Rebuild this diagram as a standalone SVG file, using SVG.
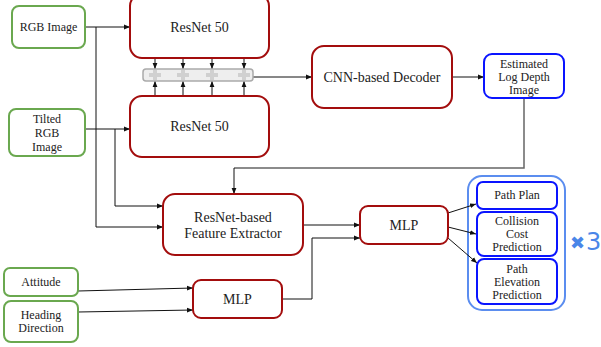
<svg xmlns="http://www.w3.org/2000/svg" width="601" height="347" viewBox="0 0 601 347">
<style>
text{font-family:"Liberation Serif","DejaVu Serif",serif;fill:#222;text-anchor:middle}
.in{fill:#fff;stroke:#6aa84f;stroke-width:2}
.nn{fill:#fff;stroke:#a30d0d;stroke-width:2}
.out{fill:#fff;stroke:#0a14ff;stroke-width:2}
.c{fill:none;stroke:#111;stroke-width:1}
.g{fill:none;stroke:#666;stroke-width:1.5}
.big{font-family:"Liberation Serif",serif;font-size:14px}
.mid{font-family:"Liberation Serif",serif;font-size:12px}
.sm{font-family:"Liberation Serif",serif;font-size:12px}
.x3{font-family:"DejaVu Sans","Liberation Sans",sans-serif;fill:#4a86e8;text-anchor:start}
</style>
<defs>
<marker id="ah" viewBox="0 0 10 10" refX="10" refY="5" markerWidth="6" markerHeight="6" markerUnits="userSpaceOnUse" orient="auto">
<path d="M0,1 L10,5 L0,9 z" fill="#111"/>
</marker>
</defs>
<g id="heads">
<rect x="468" y="176" width="97" height="134" rx="14" fill="none" stroke="#5b8def" stroke-width="2"/>
<text class="x3" x="570" y="249" font-size="18">✖</text>
<text class="x3" x="586" y="250" font-size="24">3</text>
</g>
<g id="connectors">
<path class="c" d="M85,27 H130" marker-end="url(#ah)"/>
<path class="c" d="M96,27 V227 H163" marker-end="url(#ah)"/>
<path class="c" d="M85,129 H130" marker-end="url(#ah)"/>
<path class="c" d="M115,129 V206 H163" marker-end="url(#ah)"/>
<path class="c" d="M155,58 V69" marker-end="url(#ah)"/>
<path class="c" d="M183,58 V69" marker-end="url(#ah)"/>
<path class="c" d="M212,58 V69" marker-end="url(#ah)"/>
<path class="c" d="M244,58 V69" marker-end="url(#ah)"/>
<path class="c" d="M155,96 V81" marker-end="url(#ah)"/>
<path class="c" d="M183,96 V81" marker-end="url(#ah)"/>
<path class="c" d="M212,96 V81" marker-end="url(#ah)"/>
<path class="c" d="M244,96 V81" marker-end="url(#ah)"/>
<path class="c" d="M253,77 H312" marker-end="url(#ah)"/>
<path class="c" d="M452,77 H484" marker-end="url(#ah)"/>
<path class="g" d="M524,98 V168 H234"/>
<path class="c" d="M234,168 V194" marker-end="url(#ah)"/>
<path class="c" d="M303,225 H360" marker-end="url(#ah)"/>
<path class="c" d="M282,299 H312 V238 H360" marker-end="url(#ah)"/>
<path class="c" d="M78,291 L193,288" marker-end="url(#ah)"/>
<path class="c" d="M78,312 L193,310" marker-end="url(#ah)"/>
<path class="c" d="M448,213 L476,204" marker-end="url(#ah)"/>
<path class="c" d="M448,227 L476,234" marker-end="url(#ah)"/>
<path class="c" d="M448,238 L477,263" marker-end="url(#ah)"/>
</g>
<g id="rgb">
<rect class="in" x="12" y="6" width="73" height="42" rx="7"/>
<text class="mid" x="48.5" y="31">RGB Image</text>
</g>
<g id="tilted">
<rect class="in" x="9" y="109" width="76" height="47" rx="7"/>
<text class="mid" x="47" y="123">Tilted</text>
<text class="mid" x="47" y="137">RGB</text>
<text class="mid" x="47" y="151">Image</text>
</g>
<g id="resnet1">
<rect class="nn" x="130" y="-6" width="139" height="64" rx="12"/>
<text class="big" x="199.5" y="32">ResNet 50</text>
</g>
<g id="resnet2">
<rect class="nn" x="130" y="96" width="139" height="61" rx="12"/>
<text class="big" x="199.5" y="131">ResNet 50</text>
</g>
<g id="sum">
<rect x="143" y="69" width="110" height="12" rx="3" fill="#eee" stroke="#aaa" stroke-width="1.5"/>
<g fill="#d0d0d0">
<rect x="149" y="73" width="12" height="4"/><rect x="153" y="70" width="4" height="10"/>
<rect x="177" y="73" width="12" height="4"/><rect x="181" y="70" width="4" height="10"/>
<rect x="206" y="73" width="12" height="4"/><rect x="210" y="70" width="4" height="10"/>
<rect x="238" y="73" width="12" height="4"/><rect x="242" y="70" width="4" height="10"/>
</g>
</g>
<g id="decoder">
<rect class="nn" x="312" y="46" width="140" height="62" rx="12"/>
<text class="big" x="382" y="82">CNN-based Decoder</text>
</g>
<g id="depth">
<rect class="out" x="484" y="54" width="80" height="44" rx="8"/>
<text class="sm" x="524" y="68">Estimated</text>
<text class="sm" x="524" y="81">Log Depth</text>
<text class="sm" x="524" y="94">Image</text>
</g>
<g id="feature">
<rect class="nn" x="163" y="194" width="140" height="61" rx="12"/>
<text class="big" x="233" y="222">ResNet-based</text>
<text class="big" x="233" y="238">Feature Extractor</text>
</g>
<g id="attitude">
<rect class="in" x="4" y="268" width="74" height="28" rx="6"/>
<text class="mid" x="41" y="286">Attitude</text>
</g>
<g id="heading">
<rect class="in" x="4" y="301" width="74" height="41" rx="7"/>
<text class="mid" x="41" y="319">Heading</text>
<text class="mid" x="41" y="332">Direction</text>
</g>
<g id="mlp1">
<rect class="nn" x="193" y="280" width="89" height="38" rx="8"/>
<text class="big" x="237.5" y="304">MLP</text>
</g>
<g id="mlp2">
<rect class="nn" x="360" y="206" width="88" height="38" rx="8"/>
<text class="big" x="404" y="230">MLP</text>
</g>
<g id="pathplan">
<rect class="out" x="477" y="182" width="80" height="27" rx="6"/>
<text class="sm" x="517" y="199">Path Plan</text>
</g>
<g id="collision">
<rect class="out" x="477" y="212" width="80" height="44" rx="7"/>
<text class="sm" x="517" y="225">Collision</text>
<text class="sm" x="517" y="238">Cost</text>
<text class="sm" x="517" y="251">Prediction</text>
</g>
<g id="elevation">
<rect class="out" x="477" y="259" width="80" height="45" rx="7"/>
<text class="sm" x="517" y="273">Path</text>
<text class="sm" x="517" y="286">Elevation</text>
<text class="sm" x="517" y="299">Prediction</text>
</g>
</svg>
